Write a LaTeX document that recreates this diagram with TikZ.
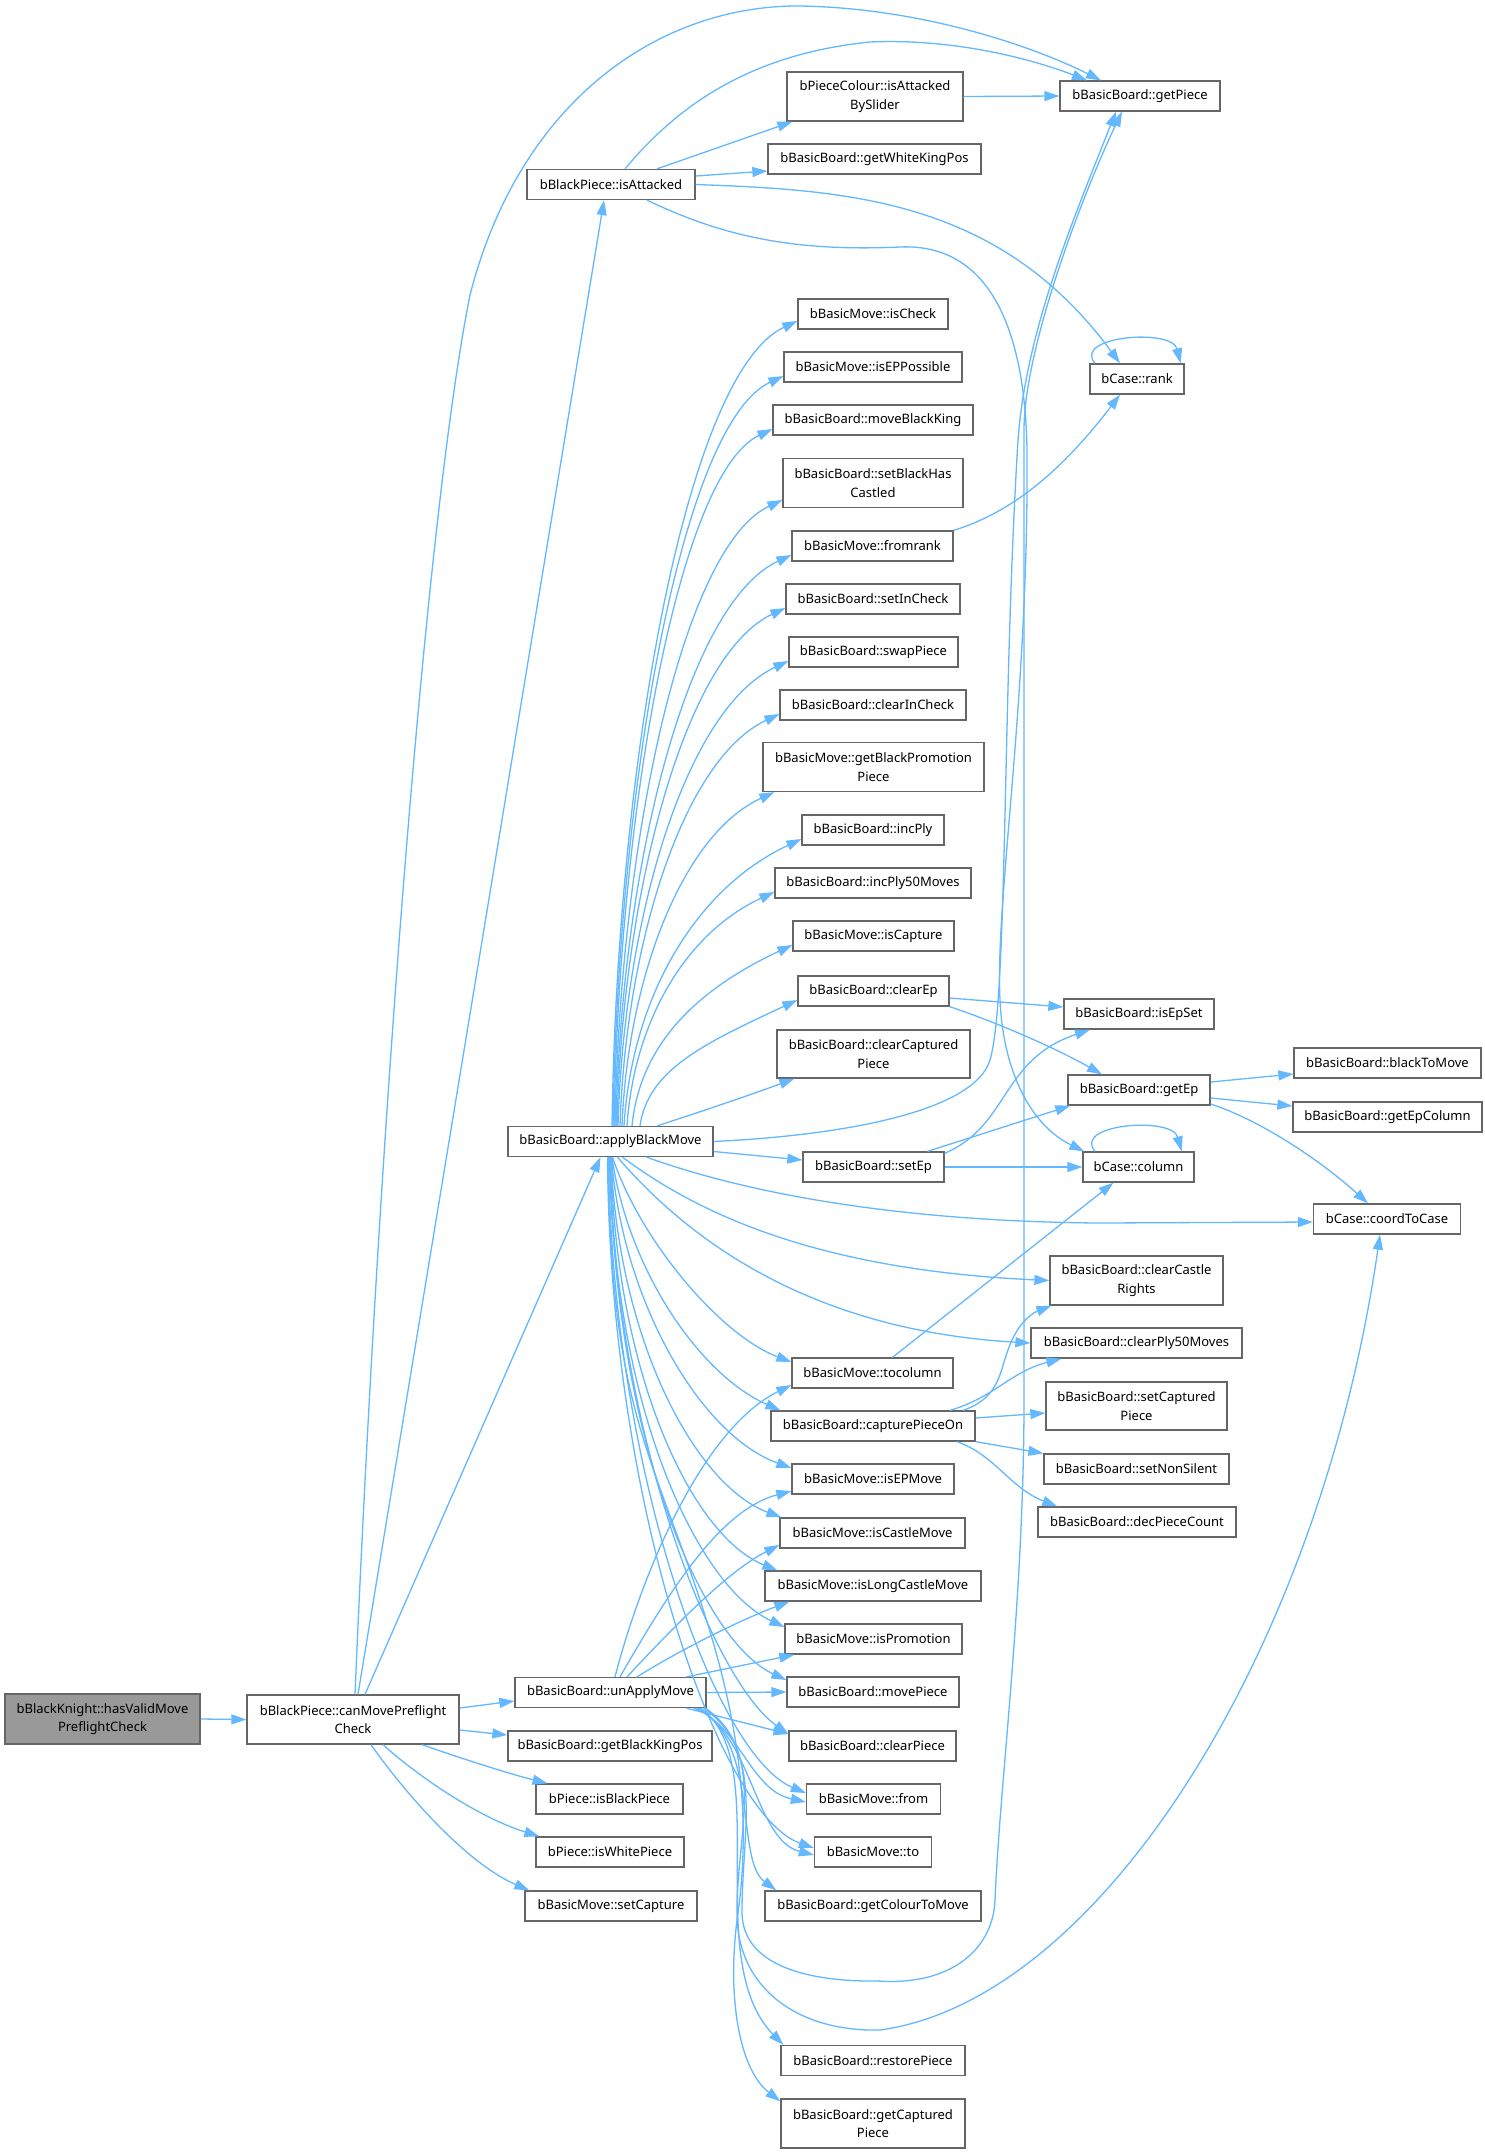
\documentclass[tikz,border=0pt]{standalone}
\usepackage{fontspec}
\setmainfont{Noto Sans}
\usetikzlibrary{arrows.meta}
\definecolor{edgeblue}{HTML}{63B8FF}
\definecolor{nodeborder}{HTML}{666666}
\definecolor{rootfill}{HTML}{999999}
\tikzset{
  box/.style={draw=nodeborder, line width=1.3pt, fill=white, inner sep=0pt, align=center,
    font=\fontsize{13}{18.7}\selectfont, minimum height=30pt},
  dbl/.style={minimum height=49pt},
  edge/.style={draw=edgeblue, line width=1.3pt, -{Triangle[length=15pt,width=10pt]}}
}
\begin{document}
\begin{tikzpicture}[x=1pt,y=-1pt]
\fill[white] (0,0) rectangle (1484,2153);
\useasboundingbox (0,0) rectangle (1484,2153);
% column 1-2
\node[box, dbl, fill=rootfill, minimum width=195pt, minimum height=50pt] (root) at (102.5,1719) {bBlackKnight::hasValidMove\\PreflightCheck};
\node[box, dbl, minimum width=212pt] (cmp) at (353,1719.5) {bBlackPiece::canMovePreflight\\Check};
% column 3
\node[box, minimum width=168pt] (isatt) at (611,184.5) {bBlackPiece::isAttacked};
\node[box, minimum width=205pt] (abm) at (610.5,1141.5) {bBasicBoard::applyBlackMove};
\node[box, minimum width=191pt] (uam) at (610.5,1692.5) {bBasicBoard::unApplyMove};
\node[box, minimum width=204pt] (gbkp) at (610,1746) {bBasicBoard::getBlackKingPos};
\node[box, minimum width=147pt] (ibp) at (609.5,1799) {bPiece::isBlackPiece};
\node[box, minimum width=148pt] (iwp) at (610,1852) {bPiece::isWhitePiece};
\node[box, minimum width=172pt] (setcap) at (611,1906) {bBasicMove::setCapture};
% column 4
\node[box, dbl, minimum width=176pt] (iabs) at (875,96.5) {bPieceColour::isAttacked\\BySlider};
\node[box, minimum width=213pt] (gwkp) at (874.5,159) {bBasicBoard::getWhiteKingPos};
\node[box, minimum width=150pt] (ischeck) at (873,314) {bBasicMove::isCheck};
\node[box, minimum width=178pt] (isepp) at (873,367) {bBasicMove::isEPPossible};
\node[box, minimum width=200pt] (mbk) at (873,420) {bBasicBoard::moveBlackKing};
\node[box, dbl, minimum width=180pt] (sbhc) at (873,483) {bBasicBoard::setBlackHas\\Castled};
\node[box, minimum width=161pt] (fromrank) at (872.5,546) {bBasicMove::fromrank};
\node[box, minimum width=174pt] (sic) at (873,599) {bBasicBoard::setInCheck};
\node[box, minimum width=169pt] (swap) at (873.5,652) {bBasicBoard::swapPiece};
\node[box, minimum width=186pt] (cic) at (873,705) {bBasicBoard::clearInCheck};
\node[box, dbl, minimum width=221pt] (gbpp) at (873.5,767) {bBasicMove::getBlackPromotion\\Piece};
\node[box, minimum width=142pt] (incply) at (873,830) {bBasicBoard::incPly};
\node[box, minimum width=196pt] (incplyf) at (873,883) {bBasicBoard::incPly50Moves};
\node[box, minimum width=161pt] (iscap) at (873.5,936) {bBasicMove::isCapture};
\node[box, minimum width=151pt] (clearep) at (873.5,991) {bBasicBoard::clearEp};
\node[box, dbl, minimum width=193pt, minimum height=48pt] (ccp) at (873.5,1054) {bBasicBoard::clearCaptured\\Piece};
\node[box, minimum width=141pt] (setep) at (873.5,1167) {bBasicBoard::setEp};
\node[box, minimum width=161pt] (tocol) at (872.5,1373) {bBasicMove::tocolumn};
\node[box, minimum width=204pt] (cpo) at (873,1426) {bBasicBoard::capturePieceOn};
\node[box, minimum width=162pt] (isepm) at (873,1479) {bBasicMove::isEPMove};
\node[box, minimum width=185pt] (iscm) at (872.5,1533) {bBasicMove::isCastleMove};
\node[box, minimum width=216pt] (islcm) at (873,1586) {bBasicMove::isLongCastleMove};
\node[box, minimum width=177pt] (isprom) at (873.5,1639) {bBasicMove::isPromotion};
\node[box, minimum width=172pt] (mp) at (873,1692) {bBasicBoard::movePiece};
\node[box, minimum width=167pt] (cp) at (872.5,1746) {bBasicBoard::clearPiece};
\node[box, minimum width=134pt] (mfrom) at (873.5,1799) {bBasicMove::from};
\node[box, minimum width=117pt] (mto) at (873,1852) {bBasicMove::to};
\node[box, minimum width=216pt] (gctm) at (873,1906) {bBasicBoard::getColourToMove};
\node[box, minimum width=184pt] (rp) at (873,2060.5) {bBasicBoard::restorePiece};
\node[box, dbl, minimum width=184pt] (gcp) at (873,2123.5) {bBasicBoard::getCaptured\\Piece};
% column 5
\node[box, minimum width=160pt] (getpiece) at (1140,96) {bBasicBoard::getPiece};
\node[box, minimum width=94pt] (rank) at (1137,379) {bCase::rank};
\node[box, minimum width=150pt] (isepset) at (1139,1014) {bBasicBoard::isEpSet};
\node[box, minimum width=142pt] (getep) at (1139,1090) {bBasicBoard::getEp};
\node[box, minimum width=111pt] (column) at (1138.5,1167) {bCase::column};
\node[box, dbl, minimum width=173pt] (ccr) at (1136.5,1280.5) {bBasicBoard::clearCastle\\Rights};
\node[box, minimum width=211pt] (cpf) at (1136.5,1343) {bBasicBoard::clearPly50Moves};
\node[box, dbl, minimum width=181pt, minimum height=48pt] (scp) at (1136.5,1406) {bBasicBoard::setCaptured\\Piece};
\node[box, minimum width=185pt] (sns) at (1136.5,1469) {bBasicBoard::setNonSilent};
\node[box, minimum width=198pt] (dpc) at (1137,1522) {bBasicBoard::decPieceCount};
% column 6
\node[box, minimum width=187pt] (btm) at (1387.5,1063) {bBasicBoard::blackToMove};
\node[box, minimum width=189pt] (gepc) at (1387.5,1117) {bBasicBoard::getEpColumn};
\node[box, minimum width=147pt] (ctc) at (1387,1219) {bCase::coordToCase};

% ---------- edges ----------
\draw[edge] (root.east) -- (cmp.west);
% canMovePreflightCheck
\draw[edge] ([xshift=2pt]cmp.north) .. controls (378,1150) and (425,520) .. (470,295) .. controls (520,100) and (660,5) .. (800,6) .. controls (920,8) and (1030,45) .. ([xshift=-39pt]getpiece.north);
\draw[edge] ([xshift=5pt]cmp.north) -- ([xshift=-7pt]isatt.south);
\draw[edge] ([xshift=12pt]cmp.north) -- ([xshift=-10pt]abm.south);
\draw[edge] ([yshift=11.5pt]cmp.east) -- ([yshift=-8.5pt]uam.west);
\draw[edge] ([yshift=-10.5pt]cmp.east) -- ([yshift=11pt]gbkp.west);
\draw[edge] ([xshift=69pt]cmp.south) .. controls (460,1758) and (510,1774) .. ([xshift=-62pt]ibp.north);
\draw[edge] ([xshift=30pt]cmp.south) .. controls (420,1778) and (480,1818) .. ([xshift=4pt]iwp.north west);
\draw[edge] ([xshift=18pt]cmp.south) .. controls (410,1800) and (470,1865) .. ([xshift=5pt]setcap.north west);
% isAttacked
\draw[edge] ([xshift=14pt]isatt.north) .. controls (670,115) and (740,55) .. (870,42) .. controls (960,38) and (1040,62) .. ([xshift=-53pt]getpiece.north);
\draw[edge] ([xshift=46pt]isatt.north) -- ([xshift=6pt]iabs.south west);
\draw[edge] ([yshift=8.5pt]isatt.east) -- ([yshift=-12pt]gwkp.west);
\draw[edge] (isatt.east) .. controls (850,190) and (1000,200) .. ([xshift=-17pt]rank.north);
\draw[edge] ([xshift=36pt]isatt.south) .. controls (720,235) and (790,252) .. (900,247) .. controls (990,243) and (1025,330) .. (1027,450) .. controls (1029,700) and (995,900) .. (1000,1000) .. controls (1003,1070) and (1030,1125) .. ([xshift=2pt]column.north west);
\draw[edge] (iabs.east) -- (getpiece.west);
% rank / column
\draw[edge] (fromrank.north east) .. controls (1020,510) and (1070,460) .. ([xshift=-17pt]rank.south);
\draw[edge] ([xshift=-42pt]rank.north) .. controls (1072,336) and (1172,328) .. ([xshift=-4pt]rank.north east);
\draw[edge] ([xshift=-43.5pt]column.north) .. controls (1072,1124) and (1172,1116) .. ([xshift=-13pt]column.north east);
% ep
\draw[edge] ([yshift=-7pt]clearep.east) -- ([yshift=7pt]isepset.west);
\draw[edge] (clearep.south east) .. controls (990,1020) and (1050,1045) .. ([xshift=-37pt]getep.north);
\draw[edge] ([yshift=8pt]getep.east) -- ([yshift=-11pt]btm.west);
\draw[edge] ([yshift=-8pt]getep.east) -- ([yshift=11pt]gepc.west);
\draw[edge] ([yshift=-14pt]getep.east) .. controls (1260,1120) and (1320,1160) .. ([xshift=-19pt]ctc.north);
\draw[edge] ([xshift=54pt]setep.north) -- ([xshift=3pt]getep.south west);
\draw[edge] ([yshift=-2pt]setep.north east) .. controls (1010,1125) and (1000,1060) .. ([xshift=-49pt]isepset.south);
\draw[edge] (setep.east) -- (column.west);
\draw[edge] ([xshift=20pt]tocol.north) -- ([xshift=-25pt]column.south);
% capturePieceOn
\draw[edge] ([xshift=90pt]cpo.north) .. controls (1000,1398) and (1000,1370) .. (1008,1350) .. controls (1016,1326) and (1030,1314) .. ([xshift=2pt]ccr.south west);
\draw[edge] ([xshift=77pt]cpo.north) .. controls (995,1397) and (1010,1372) .. ([xshift=31pt]cpf.south west);
\draw[edge] ([yshift=8pt]cpo.east) -- ([yshift=-7pt]scp.west);
\draw[edge] (cpo.south east) -- (sns.north west);
\draw[edge] ([xshift=84pt]cpo.south) .. controls (995,1455) and (1010,1488) .. ([xshift=20pt]dpc.north west);
% applyBlackMove : right side
\draw[edge] (abm.east) .. controls (850,1135) and (975,1110) .. (990,1060) .. controls (1008,1000) and (1002,700) .. (1018,440) .. controls (1026,330) and (1075,215) .. ([xshift=-24pt]getpiece.south);
\draw[edge] ([yshift=-10pt]abm.east) -- ([yshift=7pt]setep.west);
\draw[edge] ([xshift=36pt]abm.south) .. controls (780,1205) and (950,1222) .. (1100,1223) -- ([yshift=-3pt]ctc.west);
\draw[edge] ([xshift=12pt]abm.south) .. controls (700,1215) and (820,1270) .. (ccr.west);
\draw[edge] ([xshift=7pt]abm.south) .. controls (680,1230) and (800,1330) .. (cpf.west);
% applyBlackMove : upward fan
\draw[edge] ([xshift=1.5pt]abm.north) .. controls (617,764) and (686,373) .. ([yshift=-7pt]ischeck.west);
\draw[edge] ([xshift=2.5pt]abm.north) .. controls (618,789) and (681,424) .. ([yshift=-9pt]isepp.west);
\draw[edge] ([xshift=3.5pt]abm.north) .. controls (619,813) and (678,474) .. ([yshift=-9pt]mbk.west);
\draw[edge] ([xshift=4.5pt]abm.north) .. controls (620,845) and (682,547) .. ([yshift=-17pt]sbhc.west);
\draw[edge] ([xshift=5.5pt]abm.north) .. controls (621,870) and (686,604) .. ([yshift=-9pt]fromrank.west);
\draw[edge] ([xshift=6.5pt]abm.north) .. controls (622,893) and (685,655) .. ([yshift=-9pt]sic.west);
\draw[edge] ([xshift=7.5pt]abm.north) .. controls (624,917) and (686,709) .. ([yshift=-9pt]swap.west);
\draw[edge] ([xshift=9.5pt]abm.north) .. controls (626,941) and (684,759) .. ([yshift=-9pt]cic.west);
\draw[edge] ([xshift=11.5pt]abm.north) .. controls (628,976) and (683,834) .. ([xshift=12pt]gbpp.south west);
\draw[edge] ([xshift=13.5pt]abm.north) .. controls (632,997) and (695,889) .. ([yshift=-9pt]incply.west);
\draw[edge] ([xshift=16.5pt]abm.north) .. controls (634,1021) and (686,933) .. ([yshift=-9pt]incplyf.west);
\draw[edge] ([xshift=21.5pt]abm.north) .. controls (640,1045) and (696,990) .. ([yshift=-9pt]iscap.west);
\draw[edge] ([xshift=29.5pt]abm.north) .. controls (648,1070) and (703,1044) .. ([yshift=-9pt]clearep.west);
\draw[edge] ([xshift=46.5pt]abm.north) .. controls (700,1112) and (750,1095) .. ([xshift=18pt]ccp.south west);
% applyBlackMove : downward fan
\draw[edge] ([xshift=2pt]abm.south) .. controls (640,1240) and (720,1335) .. ([yshift=11pt]tocol.west);
\draw[edge] ([xshift=1.5pt]abm.south) .. controls (628,1270) and (700,1375) .. ([xshift=10pt]cpo.north west);
\draw[edge] ([xshift=1pt]abm.south) .. controls (622,1300) and (700,1435) .. ([yshift=11pt]isepm.west);
\draw[edge] ([xshift=0.5pt]abm.south) .. controls (618,1340) and (695,1485) .. ([xshift=2pt]iscm.north west);
\draw[edge] ([xshift=0.5pt]abm.south) .. controls (615,1370) and (690,1535) .. ([xshift=13pt]islcm.north west);
\draw[edge] (abm.south) .. controls (612,1400) and (695,1585) .. ([yshift=12pt]isprom.west);
\draw[edge] (abm.south) .. controls (612,1430) and (700,1640) .. ([yshift=12pt]mp.west);
\draw[edge] ([xshift=-1pt]abm.south) .. controls (614,1430) and (712,1680) .. ([yshift=12pt]cp.west);
\draw[edge] ([xshift=-2pt]abm.south) .. controls (612,1470) and (715,1755) .. ([yshift=6pt]mfrom.west);
\draw[edge] ([xshift=-3pt]abm.south) .. controls (610,1510) and (720,1815) .. ([yshift=4pt]mto.west);
\draw[edge] ([xshift=-2pt]abm.south) .. controls (610,1400) and (650,1450) .. (700,1600) .. controls (740,1720) and (752,1820) .. (737,1920) .. controls (727,2000) and (740,2070) .. ([yshift=-3pt]gcp.north west);
% unApplyMove
\draw[edge] ([xshift=4.5pt]uam.north) .. controls (640,1580) and (700,1430) .. ([yshift=-12pt]tocol.west);
\draw[edge] ([xshift=9.5pt]uam.north) .. controls (670,1590) and (720,1510) .. ([yshift=-12pt]isepm.west);
\draw[edge] ([xshift=16.5pt]uam.north) .. controls (680,1620) and (730,1570) .. ([yshift=-12pt]iscm.west);
\draw[edge] ([xshift=26.5pt]uam.north) .. controls (680,1650) and (740,1620) .. ([xshift=25pt]islcm.south west);
\draw[edge] ([xshift=76pt]uam.north) -- ([xshift=10pt]isprom.south west);
\draw[edge] (uam.east) -- (mp.west);
\draw[edge] ([xshift=76pt]uam.south) -- ([yshift=12pt]cp.west);
\draw[edge] ([xshift=83pt]uam.south) .. controls (740,1725) and (750,1790) .. ([yshift=-3pt]mfrom.west);
\draw[edge] ([xshift=86pt]uam.south) .. controls (752,1735) and (755,1840) .. ([yshift=-3pt]mto.west);
\draw[edge] ([xshift=88pt]uam.south) .. controls (760,1745) and (735,1860) .. ([xshift=12pt]gctm.north west);
\draw[edge] ([xshift=90pt]uam.south) .. controls (775,1760) and (700,1960) .. ([xshift=3pt]rp.north west);
\draw[edge] ([xshift=93pt]uam.south) .. controls (765,1750) and (742,1830) .. (742,1912) .. controls (742,1962) and (800,1982) .. (878,1981) .. controls (950,1986) and (993,1950) .. (995,1900) .. controls (1000,1780) and (1024,1600) .. (1024,1400) -- (1024,430) .. controls (1024,350) and (1080,200) .. ([xshift=-18pt]getpiece.south);
\draw[edge] ([xshift=95pt]uam.south) .. controls (768,1752) and (736,1835) .. (737,1915) .. controls (738,1990) and (800,2032) .. (880,2030) .. controls (1100,2000) and (1320,1650) .. ([xshift=-7pt]ctc.south);
\end{tikzpicture}
\end{document}
